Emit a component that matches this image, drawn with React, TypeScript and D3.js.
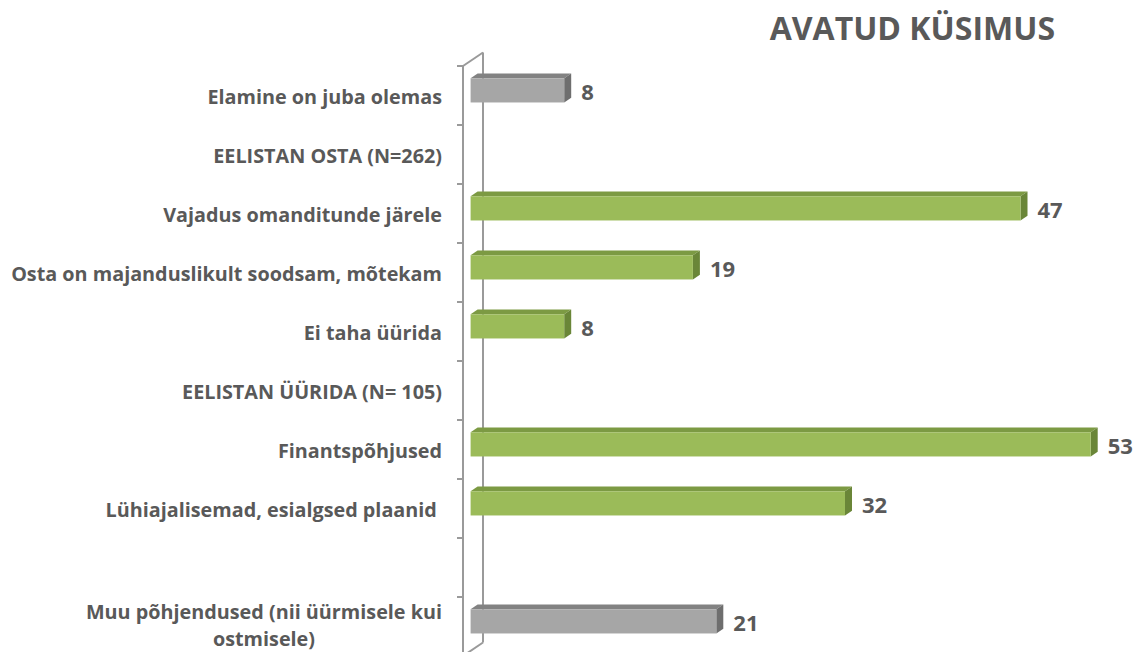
import React, { useLayoutEffect, useRef, useState } from 'react';
import { scaleBand, scaleLinear } from 'd3';

// rows of the bar chart, top to bottom ('' = empty spacer row)
const categories = [
  'Elamine on juba olemas',
  'EELISTAN OSTA (N=262)',
  'Vajadus omanditunde järele',
  'Osta on majanduslikult soodsam, mõtekam',
  'Ei taha üürida',
  'EELISTAN ÜÜRIDA (N= 105)',
  'Finantspõhjused',
  'Lühiajalisemad, esialgsed plaanid ',
  '',
  'Muu põhjendused (nii üürmisele kui ostmisele)',
];
const values: (number | null)[] = [8, null, 47, 19, 8, null, 53, 32, null, 21];
// gray = general answers, green = reasons
const kinds = ['gray', 'none', 'green', 'green', 'green', 'none', 'green', 'green', 'none', 'gray'];
const title = 'AVATUD KÜSIMUS';

const FONT = "'Open Sans', 'DejaVu Sans', sans-serif";
const TEXT = '#595959';
const AXIS = '#9a9a9a';

const palette: Record<string, { front: string; top: string; side: string }> = {
  green: { front: '#9bbb59', top: '#7c9a43', side: '#6a8638' },
  gray: { front: '#a6a6a6', top: '#828282', side: '#6e6e6e' },
};

const width = 1137;
const height = 652;

// 3D wall depth vector and bar depth position
const depthX = 20;
const depthY = -13.5;
const tFront = 0.38;
const tBack = 0.73;

const App = () => {
  const axisX = 463;
  const rowTop = 66;
  const rowStep = 59;
  const labelRight = 442;

  const firstLineRef = useRef<SVGTSpanElement>(null);
  const [firstW, setFirstW] = useState(355);

  useLayoutEffect(() => {
    if (firstLineRef.current) setFirstW(firstLineRef.current.getComputedTextLength());
  }, []);

  const yScale = scaleBand<number>()
    .domain(categories.map((_, i) => i))
    .range([rowTop, rowTop + rowStep * categories.length])
    .padding(0);

  const xScale = scaleLinear().domain([0, 53]).range([axisX, axisX + 53 * 11.7]);

  const band = yScale.bandwidth();
  const barH = band * 0.41;
  const labelSize = 19.8;

  const fx = depthX * tFront;
  const fy = depthY * tFront;
  const bx = depthX * tBack;
  const by = depthY * tBack;

  const ticks = categories.map((_, i) => yScale(i) as number).concat(rowTop + rowStep * categories.length);
  const bottom = rowTop + rowStep * categories.length;

  return (
    <svg width={width} height={height} style={{ position: 'absolute', left: 0, top: 0 }} fontFamily={FONT}>
      <rect width={width} height={height} fill="#ffffff" />

      <text x={1055} y={40} textAnchor="end" fontSize={32} fontWeight={700} fill={TEXT}>
        {title}
      </text>

      {/* wall: back line, front line, diagonals */}
      <g stroke={AXIS} strokeWidth={2} fill="none">
        <line x1={axisX + depthX} y1={rowTop + depthY} x2={axisX + depthX} y2={bottom + depthY} />
        <line x1={axisX} y1={rowTop} x2={axisX} y2={bottom} />
        <line x1={axisX} y1={rowTop} x2={axisX + depthX} y2={rowTop + depthY} />
        <line x1={axisX} y1={bottom} x2={axisX + depthX} y2={bottom + depthY} />
        {ticks.map(t => (
          <line key={`tick-${t}`} x1={axisX - 6} x2={axisX} y1={t} y2={t} />
        ))}
      </g>

      {categories.map((cat, i) => {
        const cy = (yScale(i) as number) + band / 2;
        const v = values[i];
        const col = palette[kinds[i]];
        let bar = null;
        if (v !== null && col) {
          const x0 = xScale(0);
          const x1 = xScale(v);
          const y0 = cy - barH / 2;
          const y1 = cy + barH / 2;
          bar = (
            <g key={`bar-${i}`}>
              <polygon
                points={`${x0 + fx},${y0 + fy} ${x0 + bx},${y0 + by} ${x1 + bx},${y0 + by} ${x1 + fx},${y0 + fy}`}
                fill={col.top}
              />
              <polygon
                points={`${x1 + fx},${y0 + fy} ${x1 + bx},${y0 + by} ${x1 + bx},${y1 + by} ${x1 + fx},${y1 + fy}`}
                fill={col.side}
              />
              <rect x={x0 + fx} y={y0 + fy} width={x1 - x0} height={barH} fill={col.front} />
              <text
                x={x1 + bx + 10}
                y={cy - 3}
                dy="0.36em"
                fontSize={22}
                fontWeight={700}
                fill={TEXT}
              >
                {v}
              </text>
            </g>
          );
        }

        let label = null;
        if (cat.startsWith('Muu')) {
          // two-line label, second line centred under the first
          label = (
            <text key={`lab-${i}`} fontSize={labelSize} fontWeight={700} fill={TEXT}>
              <tspan ref={firstLineRef} x={labelRight} y={cy - 8} textAnchor="end">
                Muu põhjendused (nii üürmisele kui
              </tspan>
              <tspan x={labelRight - firstW / 2} y={cy + 19} textAnchor="middle">
                ostmisele)
              </tspan>
            </text>
          );
        } else if (cat) {
          label = (
            <text
              key={`lab-${i}`}
              x={labelRight}
              y={cy + 1.5}
              dy="0.36em"
              textAnchor="end"
              fontSize={labelSize}
              fontWeight={700}
              fill={TEXT}
              style={{ whiteSpace: 'pre' }}
            >
              {cat}
            </text>
          );
        }
        return (
          <g key={`row-${i}`}>
            {label}
            {bar}
          </g>
        );
      })}
    </svg>
  );
};

export default App;
